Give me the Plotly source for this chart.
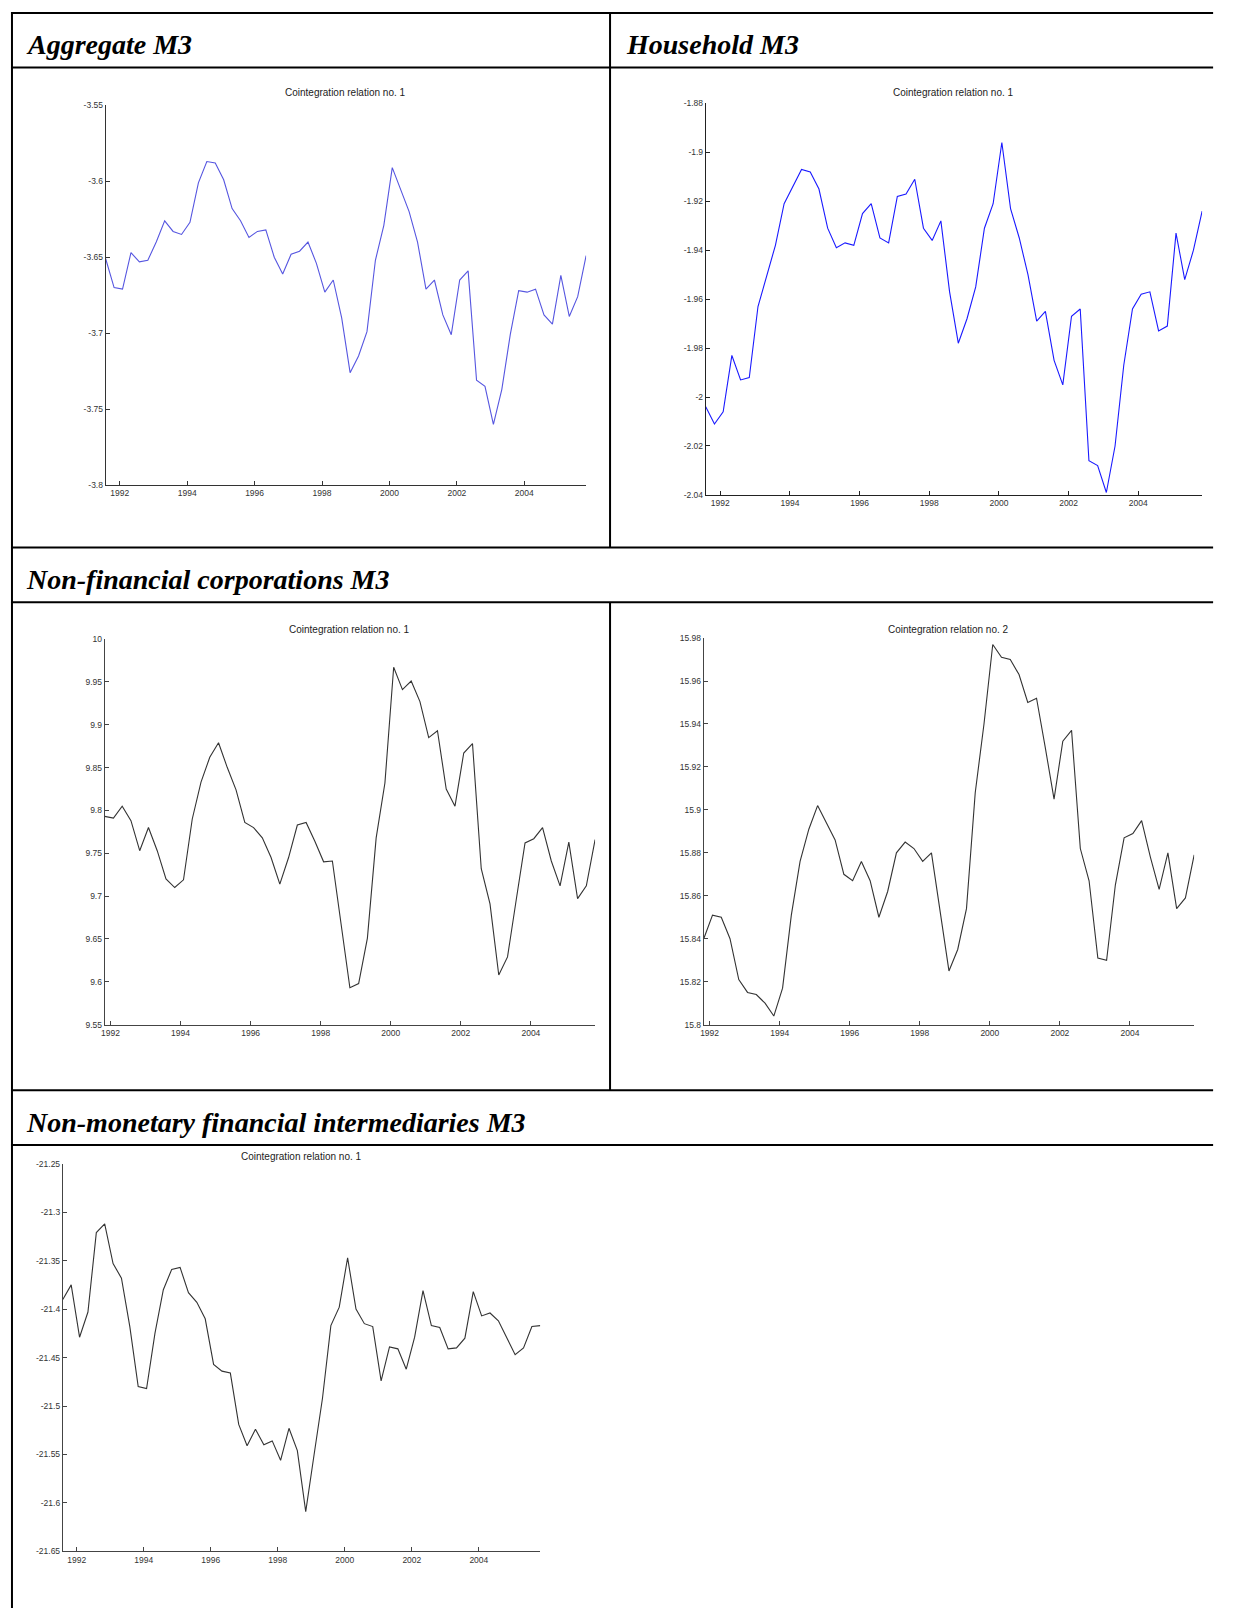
import plotly.graph_objects as go

W, H = 1247, 1613

# ---------------- data ----------------
years_ticks = [1992, 1994, 1996, 1998, 2000, 2002, 2004]
year_tick_text = ["1992", "1994", "1996", "1998", "2000", "2002", "2004"]

def quarter_labels(y0, q0, y1, q1):
    out = []
    y, q = y0, q0
    while (y, q) <= (y1, q1):
        out.append(f"{y}Q{q}")
        q += 1
        if q > 4:
            q, y = 1, y + 1
    return out

quarters_from_91q3 = quarter_labels(1991, 3, 2005, 4)   # 58 quarters
quarters_from_91q4 = quarter_labels(1991, 4, 2005, 4)   # 57 quarters

def qpos(label):
    y, q = label.split("Q")
    return int(y) + (3 * int(q) - 2) / 12.0

aggregate_m3 = [
    -3.651, -3.670, -3.671, -3.647, -3.653, -3.652, -3.640, -3.626, -3.633, -3.635,
    -3.627, -3.601, -3.587, -3.588, -3.599, -3.618, -3.626, -3.637, -3.633, -3.632,
    -3.650, -3.661, -3.648, -3.646, -3.640, -3.654, -3.673, -3.665, -3.690, -3.726,
    -3.715, -3.699, -3.652, -3.629, -3.591, -3.606, -3.620, -3.640, -3.671, -3.665,
    -3.688, -3.701, -3.665, -3.659, -3.731, -3.735, -3.760, -3.737, -3.701, -3.672,
    -3.673, -3.671, -3.688, -3.694, -3.662, -3.689, -3.676, -3.649]

household_m3 = [
    -2.004, -2.011, -2.006, -1.983, -1.993, -1.992, -1.963, -1.950, -1.938, -1.921,
    -1.914, -1.907, -1.908, -1.915, -1.931, -1.939, -1.937, -1.938, -1.925, -1.921,
    -1.935, -1.937, -1.918, -1.917, -1.911, -1.931, -1.936, -1.928, -1.957, -1.978,
    -1.968, -1.955, -1.931, -1.921, -1.896, -1.923, -1.935, -1.950, -1.969, -1.965,
    -1.985, -1.995, -1.967, -1.964, -2.026, -2.028, -2.039, -2.020, -1.987, -1.964,
    -1.958, -1.957, -1.973, -1.971, -1.933, -1.952, -1.940, -1.924]

nfc_relation1 = [
    9.793, 9.791, 9.805, 9.788, 9.753, 9.780, 9.753, 9.720, 9.710, 9.719,
    9.790, 9.833, 9.862, 9.879, 9.850, 9.824, 9.786, 9.780, 9.768, 9.745,
    9.714, 9.745, 9.783, 9.786, 9.764, 9.740, 9.741, 9.666, 9.593, 9.598,
    9.651, 9.768, 9.832, 9.967, 9.941, 9.951, 9.927, 9.885, 9.893, 9.825,
    9.805, 9.867, 9.878, 9.732, 9.691, 9.608, 9.629, 9.696, 9.762, 9.767,
    9.780, 9.741, 9.712, 9.763, 9.697, 9.712, 9.766]

nfc_relation2 = [
    15.840, 15.851, 15.850, 15.840, 15.821, 15.815, 15.814, 15.810, 15.804, 15.817,
    15.851, 15.876, 15.891, 15.902, 15.894, 15.886, 15.870, 15.867, 15.876, 15.867,
    15.850, 15.862, 15.880, 15.885, 15.882, 15.876, 15.880, 15.853, 15.825, 15.835,
    15.854, 15.908, 15.940, 15.977, 15.971, 15.970, 15.963, 15.950, 15.952, 15.929,
    15.905, 15.932, 15.937, 15.882, 15.867, 15.831, 15.830, 15.865, 15.887, 15.889,
    15.895, 15.878, 15.863, 15.880, 15.854, 15.859, 15.879]

nmfi_m3 = [
    -21.390, -21.375, -21.429, -21.403, -21.321, -21.312, -21.353, -21.368, -21.418, -21.480,
    -21.482, -21.425, -21.380, -21.359, -21.357, -21.383, -21.393, -21.410, -21.457, -21.464,
    -21.466, -21.519, -21.541, -21.524, -21.540, -21.536, -21.556, -21.523, -21.546, -21.609,
    -21.550, -21.492, -21.417, -21.398, -21.347, -21.400, -21.415, -21.418, -21.474, -21.439,
    -21.441, -21.462, -21.429, -21.381, -21.417, -21.419, -21.441, -21.440, -21.430, -21.382,
    -21.407, -21.404, -21.412, -21.429, -21.447, -21.440, -21.418, -21.417]

agg_ticks = [-3.8, -3.75, -3.7, -3.65, -3.6, -3.55]
agg_tick_text = ["-3.8", "-3.75", "-3.7", "-3.65", "-3.6", "-3.55"]
hh_ticks = [-2.04, -2.02, -2.0, -1.98, -1.96, -1.94, -1.92, -1.9, -1.88]
hh_tick_text = ["-2.04", "-2.02", "-2", "-1.98", "-1.96", "-1.94", "-1.92", "-1.9", "-1.88"]
nfc1_ticks = [9.55, 9.6, 9.65, 9.7, 9.75, 9.8, 9.85, 9.9, 9.95, 10.0]
nfc1_tick_text = ["9.55", "9.6", "9.65", "9.7", "9.75", "9.8", "9.85", "9.9", "9.95", "10"]
nfc2_ticks = [15.8, 15.82, 15.84, 15.86, 15.88, 15.9, 15.92, 15.94, 15.96, 15.98]
nfc2_tick_text = ["15.8", "15.82", "15.84", "15.86", "15.88", "15.9", "15.92", "15.94", "15.96", "15.98"]
nmfi_ticks = [-21.65, -21.6, -21.55, -21.5, -21.45, -21.4, -21.35, -21.3, -21.25]
nmfi_tick_text = ["-21.65", "-21.6", "-21.55", "-21.5", "-21.45", "-21.4", "-21.35", "-21.3", "-21.25"]

headers = ["Aggregate M3", "Household M3", "Non-financial corporations M3",
           "Non-monetary financial intermediaries M3"]
chart_titles = ["Cointegration relation no. 1", "Cointegration relation no. 1",
                "Cointegration relation no. 1", "Cointegration relation no. 2",
                "Cointegration relation no. 1"]

# ---------------- layout helpers ----------------
def fx(px):
    return px / W

def fy(py):
    return 1 - py / H

panels = [
    # x quarters, values, colour, ytickvals, yticktext, yrange, left, right, top, bottom, axis colour, title y
    (quarters_from_91q3, aggregate_m3, "#5656e0", agg_ticks, agg_tick_text, [-3.8, -3.55], 102, 584, 101, 483, "#333333", 88),
    (quarters_from_91q3, household_m3, "#1a1aff", hh_ticks, hh_tick_text, [-2.04, -1.88], 704, 1202, 99, 493, "#222222", 88),
    (quarters_from_91q4, nfc_relation1, "#333333", nfc1_ticks, nfc1_tick_text, [9.55, 10.0], 101, 593, 638, 1026, "#444444", 628),
    (quarters_from_91q4, nfc_relation2, "#333333", nfc2_ticks, nfc2_tick_text, [15.8, 15.98], 702, 1194, 637, 1026, "#444444", 628),
    (quarters_from_91q3, nmfi_m3, "#333333", nmfi_ticks, nmfi_tick_text, [-21.65, -21.25], 59, 538, 1166, 1556, "#444444", 1159),
]

fig = go.Figure()
layout_axes = {}
annotations = []
tick_font = dict(family="Liberation Sans, Arial, sans-serif", size=8.5, color="#333333")

for i, (qs, vals, color, yt, ytt, yr, l, r, t, b, axcol, ty) in enumerate(panels, start=1):
    xs = [qpos(q) for q in qs]
    xname = "x" if i == 1 else f"x{i}"
    yname = "y" if i == 1 else f"y{i}"
    fig.add_trace(go.Scatter(x=xs, y=vals, mode="lines",
                             line=dict(color=color, width=1.1),
                             xaxis=xname, yaxis=yname, showlegend=False,
                             hoverinfo="skip"))
    xkey = "xaxis" if i == 1 else f"xaxis{i}"
    ykey = "yaxis" if i == 1 else f"yaxis{i}"
    layout_axes[xkey] = dict(domain=[fx(l), fx(r)], anchor=yname,
                             range=[xs[0], xs[-1]],
                             tickvals=years_ticks, ticktext=year_tick_text,
                             ticks="inside", ticklen=4, tickcolor=axcol,
                             showline=True, linecolor=axcol, linewidth=1,
                             showgrid=False, zeroline=False,
                             tickfont=tick_font, fixedrange=True)
    layout_axes[ykey] = dict(domain=[fy(b), fy(t)], anchor=xname,
                             range=yr, tickvals=yt, ticktext=ytt,
                             ticks="inside", ticklen=4, tickcolor=axcol,
                             showline=True, linecolor=axcol, linewidth=1,
                             showgrid=False, zeroline=False,
                             tickfont=tick_font, fixedrange=True)
    annotations.append(dict(text=chart_titles[i - 1], xref="paper", yref="paper",
                            x=fx((l + r) / 2), y=fy(ty), xanchor="center",
                            yanchor="middle", showarrow=False,
                            font=dict(family="Liberation Sans, Arial, sans-serif",
                                      size=10, color="#222222")))

# table headers
header_pos = [(20, 40), (622, 40), (20, 578), (20, 1124)]
for text, (hx, hy) in zip(headers, header_pos):
    annotations.append(dict(text=f"<b><i>{text}</i></b>", xref="paper", yref="paper",
                            x=fx(hx), y=fy(hy), xanchor="left", yanchor="middle",
                            showarrow=False,
                            font=dict(family="Liberation Serif, Times New Roman, serif",
                                      size=28, color="#000000")))

# table borders
shapes = []
def hline(y, x0, x1):
    shapes.append(dict(type="line", xref="paper", yref="paper",
                       x0=fx(x0), x1=fx(x1), y0=fy(y), y1=fy(y),
                       line=dict(color="black", width=2)))

def vline(x, y0, y1):
    shapes.append(dict(type="line", xref="paper", yref="paper",
                       x0=fx(x), x1=fx(x), y0=fy(y0), y1=fy(y1),
                       line=dict(color="black", width=2)))

for yy in [8, 63, 546, 601, 1092, 1147]:
    hline(yy, 7, 1213)
vline(8, 7, 1613)
vline(608, 8, 546)
vline(608, 601, 1092)

fig.update_layout(width=W, height=H, margin=dict(l=0, r=0, t=0, b=0),
                  paper_bgcolor="white", plot_bgcolor="white",
                  annotations=annotations, shapes=shapes, **layout_axes)

fig.write_html("out.html", config={"displayModeBar": False},
               post_script="document.body.style.margin='0';")
